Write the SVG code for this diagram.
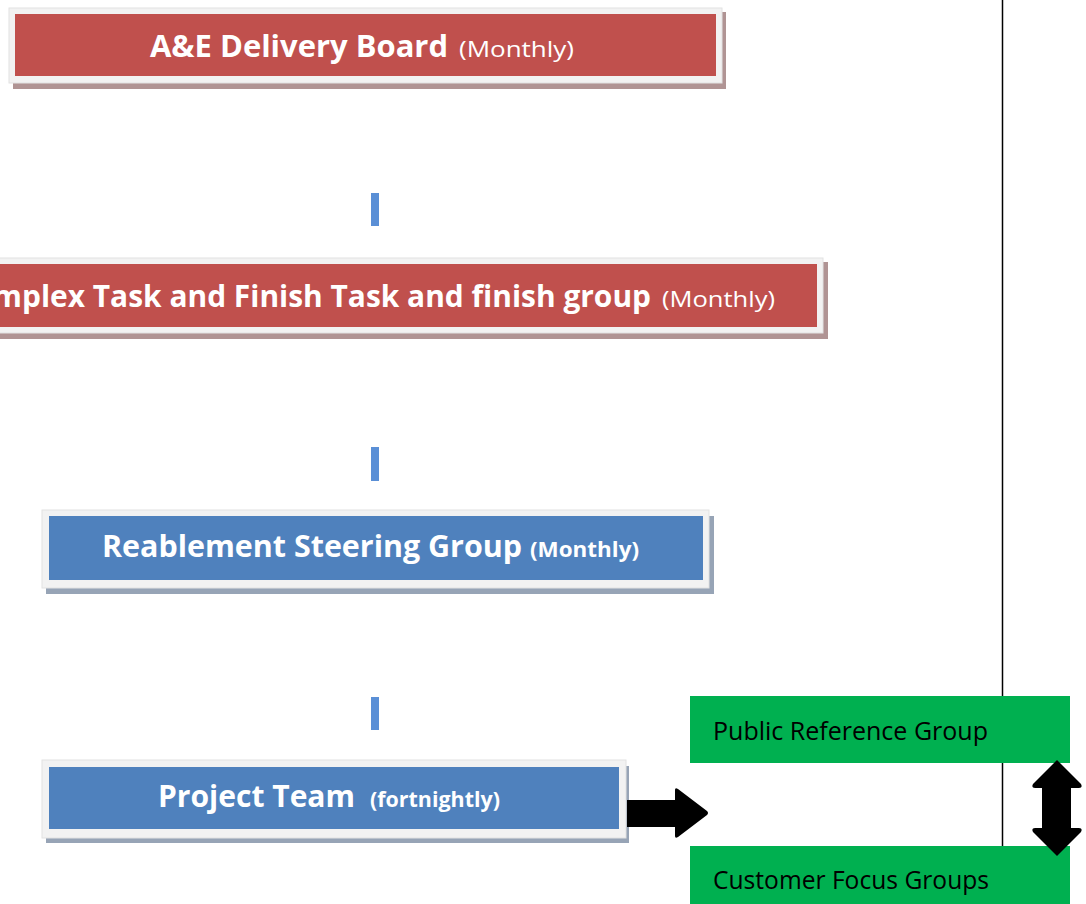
<svg xmlns="http://www.w3.org/2000/svg" width="1086" height="904" viewBox="0 0 1086 904">
  <style>
    .frame { fill: #f2f2f2; stroke: #e2e2e2; stroke-width: 1; }
    .shadow-red { fill: #b09494; }
    .shadow-blue { fill: #97a4b6; }
    .red { fill: #c0504d; }
    .blue { fill: #4f81bd; }
    .green { fill: #00b050; }
    .link { fill: #5a8fd6; }
    .title { font-family: "Open Sans", "Liberation Sans", sans-serif; font-weight: bold; font-size: 30px; fill: #ffffff; }
    .sub { font-family: "Open Sans", "Liberation Sans", sans-serif; font-size: 22px; fill: #ffffff; }
    .subb { font-family: "Open Sans", "Liberation Sans", sans-serif; font-weight: bold; font-size: 21px; fill: #ffffff; }
    .label { font-family: "Open Sans", "Liberation Sans", sans-serif; font-size: 25px; fill: #000000; }
  </style>

  <rect width="1086" height="904" fill="#ffffff"/>

  <!-- divider line behind the side boxes -->
  <line x1="1002.5" y1="0" x2="1002.5" y2="850" stroke="#000000" stroke-width="1.5"/>

  <g id="ae-board">
    <rect class="shadow-red" x="13" y="12" width="713" height="77"/>
    <rect class="frame" x="9" y="8" width="713" height="75"/>
    <rect class="red" x="15" y="14" width="701" height="62"/>
    <text x="150" y="57"><tspan class="title" textLength="298" lengthAdjust="spacingAndGlyphs">A&amp;E Delivery Board</tspan><tspan class="sub" x="459" textLength="115" lengthAdjust="spacingAndGlyphs">(Monthly)</tspan></text>
  </g>

  <g id="task-finish-group">
    <rect class="shadow-red" x="-10" y="262" width="838" height="77"/>
    <rect class="frame" x="-14" y="258" width="837" height="75"/>
    <rect class="red" x="-8" y="264" width="825" height="63"/>
    <text x="-45" y="307"><tspan class="title" textLength="696" lengthAdjust="spacingAndGlyphs">Complex Task and Finish Task and finish group</tspan><tspan class="sub" x="662" textLength="113" lengthAdjust="spacingAndGlyphs">(Monthly)</tspan></text>
  </g>

  <g id="steering-group">
    <rect class="shadow-blue" x="46" y="516" width="668" height="78"/>
    <rect class="frame" x="42" y="510" width="667" height="78"/>
    <rect class="blue" x="49" y="516" width="654" height="64"/>
    <text x="102" y="557"><tspan class="title" textLength="420" lengthAdjust="spacingAndGlyphs">Reablement Steering Group</tspan><tspan class="subb" x="530" textLength="109" lengthAdjust="spacingAndGlyphs">(Monthly)</tspan></text>
  </g>

  <g id="project-team">
    <rect class="shadow-blue" x="46" y="766" width="583" height="77"/>
    <rect class="frame" x="42" y="760" width="584" height="78"/>
    <rect class="blue" x="49" y="767" width="570" height="62"/>
    <text x="158" y="807"><tspan class="title" textLength="197" lengthAdjust="spacingAndGlyphs">Project Team</tspan><tspan class="subb" x="370" textLength="130" lengthAdjust="spacingAndGlyphs">(fortnightly)</tspan></text>
  </g>

  <g id="public-reference-group">
    <rect class="green" x="690" y="696" width="380" height="67"/>
    <text class="label" x="713" y="740" textLength="275" lengthAdjust="spacingAndGlyphs">Public Reference Group</text>
  </g>

  <g id="customer-focus-groups">
    <rect class="green" x="690" y="846" width="380" height="58"/>
    <text class="label" x="713" y="889" textLength="276" lengthAdjust="spacingAndGlyphs">Customer Focus Groups</text>
  </g>

  <!-- connectors, drawn over the boxes -->
  <g id="connectors">
    <rect class="link" x="371" y="193" width="8" height="33"/>
    <rect class="link" x="371" y="447" width="8" height="34"/>
    <rect class="link" x="371" y="697" width="8" height="33"/>
    <!-- block arrow to the side groups -->
    <path d="M627 800 H675 V790 Q675 787 678 789 L707 811 Q709 813 707 815 L678 837 Q675 839 675 836 V827 H627 Z" fill="#000000"/>
    <!-- two-way block arrow between the side groups -->
    <path d="M1057 760 L1081 784 Q1083 788 1079 788 H1071 V828 H1079 Q1083 828 1081 832 L1057 856 L1033 832 Q1031 828 1035 828 H1042 V788 H1035 Q1031 788 1033 784 Z" fill="#000000"/>
  </g>
</svg>
